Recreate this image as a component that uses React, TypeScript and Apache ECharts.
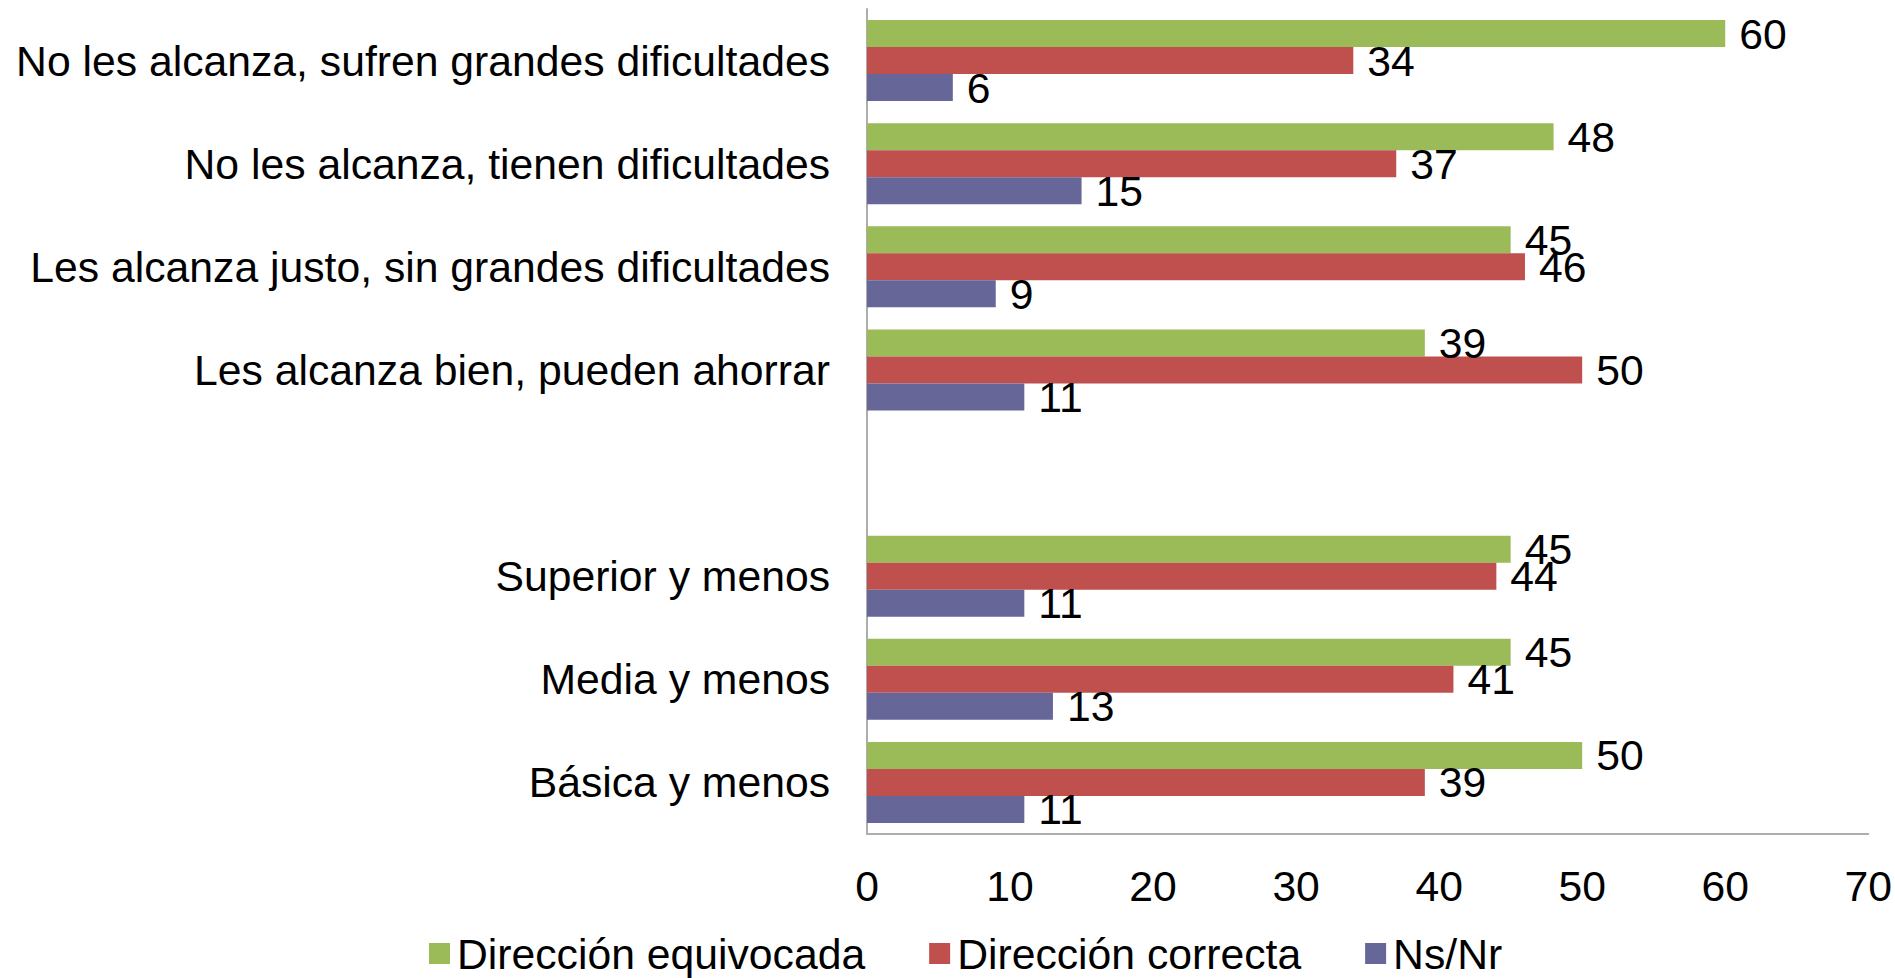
import React, { useEffect, useRef } from "react";
import * as echarts from "echarts";

const categories = [
  "No les alcanza, sufren grandes dificultades",
  "No les alcanza, tienen dificultades",
  "Les alcanza justo, sin grandes dificultades",
  "Les alcanza bien, pueden ahorrar",
  "",
  "Superior y menos",
  "Media y menos",
  "Básica y menos",
];

const seriesNames = ["Dirección equivocada", "Dirección correcta", "Ns/Nr"];
const equivocada = [60, 48, 45, 39, null, 45, 45, 50];
const correcta = [34, 37, 46, 50, null, 44, 41, 39];
const nsnr = [6, 15, 9, 11, null, 11, 13, 11];
const xTicks = { min: 0, max: 70, interval: 10 };

const colors = ["#9BBB59", "#C0504D", "#666699"];
const FONT = "'Liberation Sans', Arial, sans-serif";
const FS = 42.7;

export default function App() {
  const ref = useRef<HTMLDivElement>(null);
  useEffect(() => {
    document.body.style.margin = "0";
    if (!ref.current) return;
    const chart = echarts.init(ref.current, null, { renderer: "svg" });
    const values = [equivocada, correcta, nsnr];
    chart.setOption({
      animation: false,
      textStyle: { fontFamily: FONT },
      grid: { left: 867, top: 9, width: 1004, height: 825, containLabel: false },
      legend: {
        left: 429,
        top: 932,
        padding: 0,
        itemWidth: 21,
        itemHeight: 21,
        itemGap: 64,
        icon: "rect",
        data: seriesNames,
        textStyle: { fontSize: FS, color: "#000", fontFamily: FONT, padding: [0, 0, 0, 2] },
      },
      xAxis: {
        type: "value",
        min: xTicks.min,
        max: xTicks.max,
        interval: xTicks.interval,
        axisLine: { show: true, lineStyle: { color: "#ADADAD", width: 2 } },
        axisTick: { show: false },
        splitLine: { show: false },
        axisLabel: { fontSize: FS, color: "#000", margin: 30, fontFamily: FONT },
      },
      yAxis: {
        type: "category",
        data: categories,
        inverse: true,
        axisLine: { show: true, lineStyle: { color: "#ADADAD", width: 2 } },
        axisTick: { show: false },
        axisLabel: { fontSize: FS, color: "#000", margin: 37, fontFamily: FONT },
      },
      series: seriesNames.map((name, i) => ({
        name,
        type: "bar",
        data: values[i],
        barWidth: 27,
        barGap: "0%",
        itemStyle: { color: colors[i] },
        label: {
          show: true,
          position: "right",
          distance: 14,
          fontSize: FS,
          color: "#000",
          fontFamily: FONT,
        },
      })),
    });
    return () => chart.dispose();
  }, []);
  return (
    <div
      ref={ref}
      style={{ position: "fixed", left: 0, top: 0, width: 1895, height: 978, background: "#fff" }}
    />
  );
}
